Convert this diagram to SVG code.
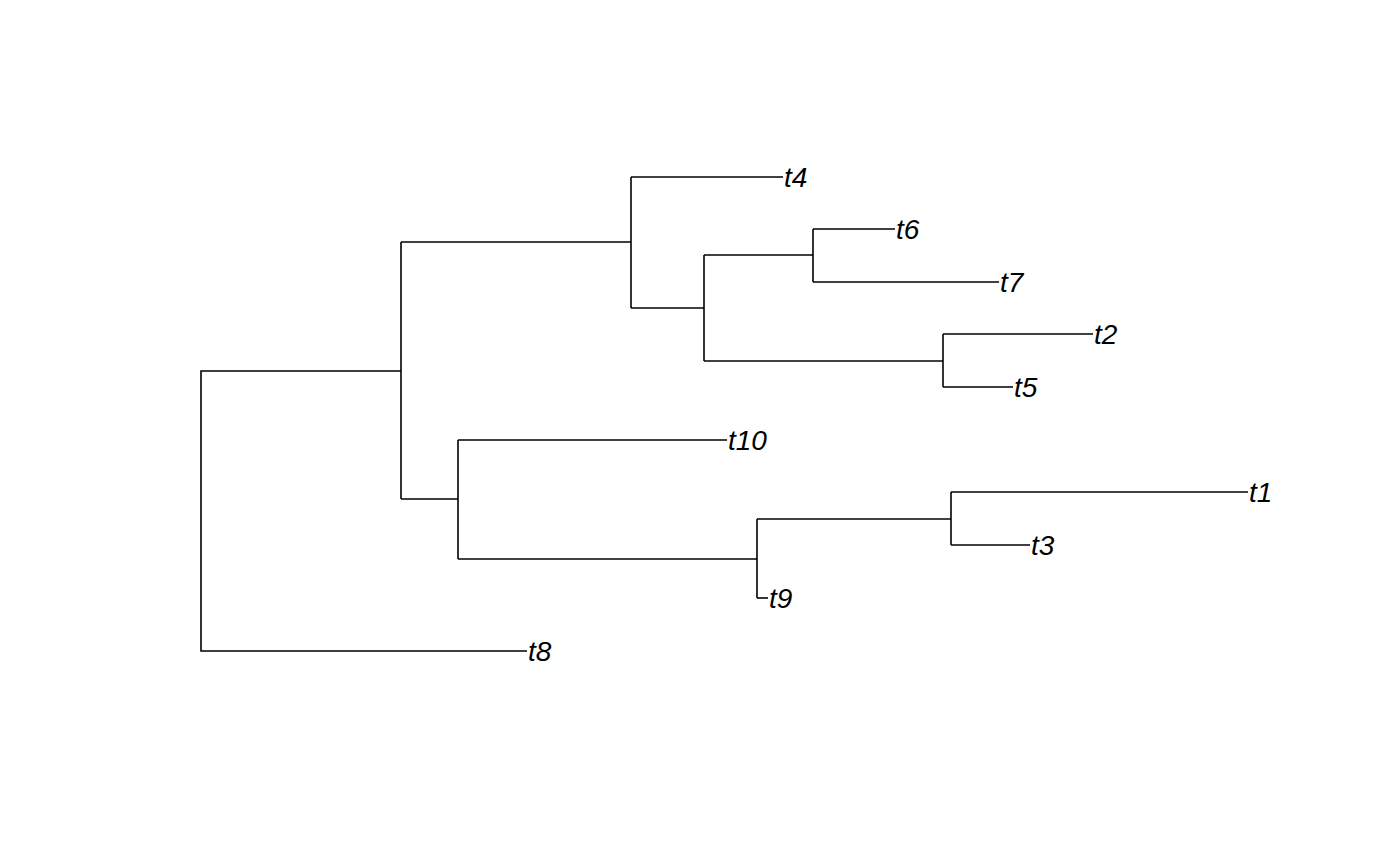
<svg xmlns="http://www.w3.org/2000/svg" width="1400" height="866" viewBox="0 0 1400 866">
<style>
.e{fill:none;stroke:#000;stroke-width:1.6;stroke-linecap:butt;stroke-linejoin:miter}
.l{font-family:"Liberation Sans",Arial,sans-serif;font-style:italic;font-size:28px;fill:#000}
</style>
<rect width="1400" height="866" fill="#fff"/>
<g id="connectors">
<path class="e" d="M527,651 H201 V371 H401"/>
<path class="e" d="M401,371 V242"/>
<path class="e" d="M401,371 V499"/>
<path class="e" d="M631,177 V308"/>
<path class="e" d="M401,242 H631"/>
<path class="e" d="M631,177 H783"/>
<path class="e" d="M631,308 H704"/>
<path class="e" d="M704,255 V361"/>
<path class="e" d="M704,255 H813"/>
<path class="e" d="M813,229 V282"/>
<path class="e" d="M813,229 H895"/>
<path class="e" d="M813,282 H999"/>
<path class="e" d="M704,361 H943"/>
<path class="e" d="M943,334 V387"/>
<path class="e" d="M943,334 H1093"/>
<path class="e" d="M943,387 H1013"/>
<path class="e" d="M401,499 H458"/>
<path class="e" d="M458,440 V559"/>
<path class="e" d="M458,440 H727"/>
<path class="e" d="M458,559 H757"/>
<path class="e" d="M757,519 V598"/>
<path class="e" d="M757,598 H768"/>
<path class="e" d="M757,519 H951"/>
<path class="e" d="M951,492 V545"/>
<path class="e" d="M951,492 H1248"/>
<path class="e" d="M951,545 H1030"/>
</g>
<g id="t4"><text class="l" x="784" y="187">t4</text></g>
<g id="t6"><text class="l" x="896" y="239">t6</text></g>
<g id="t7"><text class="l" x="1000" y="292">t7</text></g>
<g id="t2"><text class="l" x="1094" y="344">t2</text></g>
<g id="t5"><text class="l" x="1014" y="397">t5</text></g>
<g id="t10"><text class="l" x="728" y="450">t10</text></g>
<g id="t1"><text class="l" x="1249" y="502">t1</text></g>
<g id="t3"><text class="l" x="1031" y="555">t3</text></g>
<g id="t9"><text class="l" x="769" y="608">t9</text></g>
<g id="t8"><text class="l" x="528" y="661">t8</text></g>
</svg>
